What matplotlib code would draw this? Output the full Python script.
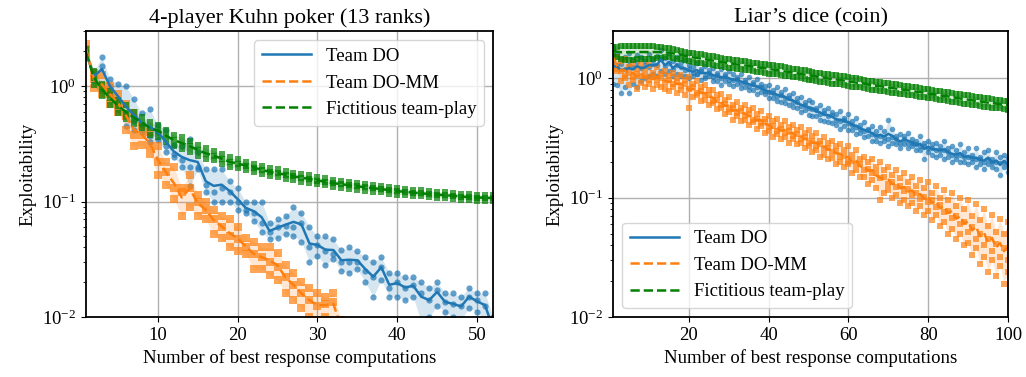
import numpy as np
import matplotlib
matplotlib.use("Agg")
import matplotlib.pyplot as plt

plt.rcParams["font.family"] = "serif"
plt.rcParams["font.serif"] = ["Liberation Serif", "DejaVu Serif"]
plt.rcParams["mathtext.fontset"] = "stix"
plt.rcParams["font.size"] = 13.5

# ---- 4-player Kuhn poker (13 ranks): exploitability per seed ----
kuhn_do_a = [2.1, 1.35, 1.78, 1.15, 1.05, 1.0, 0.77, 0.58, 0.63, 0.46,
             0.42, 0.31, 0.3, 0.35, 0.27, 0.19, 0.19, 0.19, 0.15, 0.13,
             0.1, 0.1, 0.1, 0.065, 0.07, 0.075, 0.09, 0.08, 0.06, 0.05,
             0.05, 0.047, 0.038, 0.04, 0.037, 0.033, 0.03, 0.033, 0.024, 0.024,
             0.022, 0.022, 0.02, 0.018, 0.02, 0.016, 0.016, 0.015, 0.018, 0.016,
             0.016, 0.01]
kuhn_do_b = [1.9, 1.2, 1.48, 1.0, 0.78, 0.55, 0.5, 0.46, 0.37, 0.4,
             0.3, 0.26, 0.23, 0.2, 0.2, 0.14, 0.12, 0.13, 0.12, 0.1,
             0.085, 0.08, 0.065, 0.055, 0.06, 0.062, 0.06, 0.065, 0.04, 0.042,
             0.037, 0.035, 0.03, 0.03, 0.03, 0.025, 0.022, 0.027, 0.018, 0.02,
             0.018, 0.019, 0.016, 0.014, 0.017, 0.0135, 0.013, 0.0125, 0.015, 0.014,
             0.0125, 0.008]
kuhn_do_c = [1.85, 1.1, 0.95, 0.85, 0.62, 0.45, 0.42, 0.4, 0.33, 0.34,
             0.27, 0.245, 0.2, 0.135, 0.19, 0.12, 0.1, 0.1, 0.1, 0.085,
             0.08, 0.068, 0.055, 0.047, 0.048, 0.052, 0.05, 0.045, 0.03, 0.034,
             0.028, 0.032, 0.025, 0.024, 0.026, 0.02, 0.015, 0.021, 0.015, 0.015,
             0.014, 0.015, 0.009, 0.01, 0.0125, 0.011, 0.01, 0.0095, 0.012, 0.011,
             0.0095, 0.006]

kuhn_mm_a = [2.3, 1.3, 1.25, 1.0, 0.85, 0.7, 0.58, 0.45, 0.4, 0.3,
             0.22, 0.2, 0.13, 0.17, 0.115, 0.1, 0.085, 0.075, 0.07, 0.06,
             0.048, 0.045, 0.04, 0.04, 0.036, 0.028, 0.024, 0.02, 0.018, 0.016,
             0.015, 0.016, 0.0095]
kuhn_mm_b = [2.1, 1.15, 1.0, 0.85, 0.7, 0.55, 0.38, 0.38, 0.3, 0.22,
             0.18, 0.13, 0.12, 0.13, 0.1, 0.085, 0.07, 0.06, 0.05, 0.047,
             0.04, 0.035, 0.033, 0.03, 0.027, 0.022, 0.019, 0.016, 0.014, 0.0125,
             0.013, 0.0135, 0.008]
kuhn_mm_c = [1.9, 0.97, 0.85, 0.7, 0.6, 0.42, 0.3, 0.31, 0.26, 0.17,
             0.14, 0.105, 0.075, 0.09, 0.075, 0.07, 0.052, 0.048, 0.04, 0.037,
             0.035, 0.026, 0.026, 0.023, 0.021, 0.016, 0.014, 0.012, 0.01, 0.0095,
             0.01, 0.0095, 0.0065]

kuhn_ftp_a = [2.1, 1.35, 1.05, 0.9, 0.76, 0.68, 0.6, 0.54, 0.49, 0.46,
              0.42, 0.38, 0.36, 0.335, 0.31, 0.29, 0.275, 0.258, 0.242, 0.233,
              0.222, 0.213, 0.204, 0.195, 0.19, 0.184, 0.178, 0.172, 0.169, 0.163,
              0.159, 0.155, 0.151, 0.148, 0.145, 0.142, 0.139, 0.137, 0.134, 0.131,
              0.129, 0.127, 0.125, 0.123, 0.122, 0.12, 0.119, 0.117, 0.116, 0.115,
              0.114, 0.113]
kuhn_ftp_b = [1.95, 1.18, 0.93, 0.79, 0.67, 0.59, 0.53, 0.48, 0.43, 0.41,
              0.37, 0.34, 0.32, 0.3, 0.28, 0.26, 0.25, 0.234, 0.22, 0.213,
              0.204, 0.196, 0.188, 0.18, 0.176, 0.17, 0.165, 0.16, 0.157, 0.152,
              0.148, 0.144, 0.141, 0.138, 0.135, 0.133, 0.13, 0.128, 0.125, 0.123,
              0.121, 0.119, 0.118, 0.116, 0.115, 0.113, 0.112, 0.11, 0.109, 0.108,
              0.108, 0.107]
kuhn_ftp_c = [1.8, 1.02, 0.82, 0.69, 0.59, 0.52, 0.47, 0.43, 0.38, 0.36,
              0.33, 0.3, 0.285, 0.27, 0.25, 0.235, 0.227, 0.213, 0.2, 0.195,
              0.188, 0.181, 0.174, 0.167, 0.163, 0.158, 0.153, 0.149, 0.146, 0.142,
              0.138, 0.134, 0.132, 0.129, 0.126, 0.124, 0.122, 0.12, 0.117, 0.115,
              0.114, 0.112, 0.111, 0.109, 0.108, 0.107, 0.106, 0.104, 0.103, 0.102,
              0.102, 0.101]

# ---- Liar's dice (coin): exploitability per seed ----
dice_do_a = [1.55, 1.6, 1.45, 1.5, 1.62, 1.42, 1.58, 1.5, 1.4, 1.6,
             1.45, 1.55, 1.72, 1.48, 1.62, 1.4, 1.52, 1.38, 1.42, 1.3,
             1.25, 1.35, 1.2, 1.28, 1.18, 1.22, 1.12, 1.2, 1.08, 1.15,
             1.1, 1.03, 1.08, 0.98, 1.02, 0.93, 0.99, 0.9, 0.86, 0.88,
             0.8, 0.84, 0.77, 0.81, 0.72, 0.75, 0.68, 0.7, 0.63, 0.66,
             0.64, 0.57, 0.6, 0.54, 0.56, 0.52, 0.5, 0.53, 0.47, 0.5,
             0.44, 0.47, 0.41, 0.43, 0.38, 0.4, 0.36, 0.39, 0.36, 0.45,
             0.38, 0.33, 0.34, 0.33, 0.35, 0.31, 0.3, 0.33, 0.29, 0.3,
             0.28, 0.29, 0.27, 0.3, 0.26, 0.27, 0.25, 0.28, 0.24, 0.26,
             0.23, 0.26, 0.22, 0.24, 0.25, 0.21, 0.24, 0.22, 0.23, 0.215]
dice_do_b = [1.35, 1.3, 1.32, 1.2, 1.3, 1.25, 1.38, 1.22, 1.3, 1.25,
             1.32, 1.3, 1.45, 1.28, 1.36, 1.2, 1.3, 1.25, 1.18, 1.2,
             1.12, 1.1, 1.15, 1.05, 1.12, 1.02, 1.07, 1.0, 1.04, 0.97,
             0.97, 0.99, 0.92, 0.93, 0.87, 0.9, 0.84, 0.84, 0.79, 0.77,
             0.76, 0.71, 0.73, 0.68, 0.68, 0.64, 0.64, 0.59, 0.6, 0.56,
             0.55, 0.54, 0.5, 0.51, 0.48, 0.49, 0.45, 0.44, 0.45, 0.42,
             0.41, 0.39, 0.38, 0.36, 0.37, 0.34, 0.33, 0.33, 0.32, 0.31,
             0.32, 0.31, 0.29, 0.31, 0.29, 0.29, 0.28, 0.27, 0.27, 0.26,
             0.26, 0.25, 0.25, 0.25, 0.24, 0.23, 0.23, 0.23, 0.22, 0.22,
             0.215, 0.21, 0.21, 0.2, 0.21, 0.2, 0.2, 0.195, 0.2, 0.19]
dice_do_c = [0.9, 0.88, 0.75, 0.85, 0.75, 0.9, 0.85, 0.95, 1.0, 1.05,
             1.1, 1.05, 1.15, 1.1, 1.15, 1.05, 1.1, 1.05, 1.05, 1.0,
             1.05, 1.08, 0.98, 1.0, 1.04, 0.96, 0.95, 0.88, 0.95, 0.9,
             0.86, 0.9, 0.83, 0.85, 0.8, 0.8, 0.74, 0.77, 0.74, 0.68,
             0.68, 0.65, 0.64, 0.62, 0.6, 0.58, 0.57, 0.52, 0.54, 0.49,
             0.48, 0.48, 0.45, 0.44, 0.43, 0.42, 0.41, 0.38, 0.4, 0.37,
             0.37, 0.34, 0.35, 0.32, 0.33, 0.3, 0.3, 0.29, 0.3, 0.27,
             0.29, 0.28, 0.26, 0.28, 0.26, 0.27, 0.25, 0.25, 0.21, 0.24,
             0.23, 0.22, 0.23, 0.21, 0.22, 0.2, 0.21, 0.2, 0.2, 0.19,
             0.2, 0.18, 0.19, 0.175, 0.19, 0.18, 0.175, 0.155, 0.18, 0.165]

dice_mm_a = [1.75, 1.5, 1.4, 1.45, 1.25, 1.35, 1.2, 1.32, 1.18, 1.3,
             1.12, 1.25, 1.1, 1.15, 1.05, 1.12, 1.0, 1.06, 0.97, 1.02,
             0.9, 0.95, 0.84, 0.88, 0.8, 0.8, 0.72, 0.74, 0.66, 0.7,
             0.6, 0.64, 0.57, 0.6, 0.54, 0.56, 0.5, 0.53, 0.46, 0.48,
             0.44, 0.46, 0.41, 0.44, 0.39, 0.41, 0.37, 0.39, 0.35, 0.37,
             0.33, 0.35, 0.3, 0.32, 0.29, 0.3, 0.27, 0.28, 0.25, 0.27,
             0.23, 0.25, 0.21, 0.22, 0.2, 0.21, 0.18, 0.2, 0.17, 0.18,
             0.155, 0.17, 0.145, 0.16, 0.135, 0.15, 0.125, 0.14, 0.12, 0.135,
             0.11, 0.125, 0.1, 0.115, 0.095, 0.11, 0.085, 0.1, 0.08, 0.095,
             0.07, 0.088, 0.065, 0.08, 0.058, 0.072, 0.052, 0.066, 0.05, 0.062]
dice_mm_b = [1.45, 1.2, 1.15, 1.05, 1.12, 1.02, 1.08, 1.05, 1.05, 0.98,
             1.02, 0.98, 1.0, 0.92, 0.97, 0.9, 0.93, 0.86, 0.9, 0.82,
             0.84, 0.76, 0.78, 0.72, 0.73, 0.65, 0.66, 0.6, 0.61, 0.55,
             0.56, 0.51, 0.53, 0.48, 0.5, 0.45, 0.46, 0.42, 0.43, 0.39,
             0.4, 0.36, 0.38, 0.35, 0.36, 0.33, 0.34, 0.31, 0.32, 0.29,
             0.3, 0.27, 0.28, 0.255, 0.26, 0.24, 0.245, 0.22, 0.225, 0.2,
             0.205, 0.19, 0.19, 0.17, 0.175, 0.16, 0.16, 0.145, 0.15, 0.13,
             0.135, 0.122, 0.125, 0.113, 0.118, 0.105, 0.11, 0.097, 0.102, 0.092,
             0.095, 0.083, 0.087, 0.076, 0.078, 0.068, 0.07, 0.06, 0.062, 0.052,
             0.057, 0.045, 0.05, 0.04, 0.045, 0.036, 0.041, 0.032, 0.038, 0.03]
dice_mm_c = [1.25, 1.15, 0.95, 1.0, 0.88, 0.98, 0.82, 0.92, 0.85, 0.9,
             0.82, 0.88, 0.85, 0.82, 0.78, 0.85, 0.76, 0.8, 0.72, 0.56,
             0.7, 0.72, 0.65, 0.66, 0.6, 0.62, 0.55, 0.56, 0.5, 0.52,
             0.45, 0.48, 0.44, 0.45, 0.41, 0.43, 0.38, 0.4, 0.35, 0.36,
             0.32, 0.34, 0.31, 0.32, 0.29, 0.31, 0.28, 0.29, 0.26, 0.27,
             0.24, 0.25, 0.22, 0.23, 0.21, 0.215, 0.19, 0.2, 0.18, 0.19,
             0.16, 0.17, 0.15, 0.15, 0.13, 0.14, 0.12, 0.095, 0.11, 0.115,
             0.1, 0.105, 0.09, 0.095, 0.085, 0.09, 0.078, 0.085, 0.072, 0.078,
             0.065, 0.072, 0.058, 0.062, 0.05, 0.055, 0.045, 0.05, 0.04, 0.042,
             0.033, 0.038, 0.028, 0.032, 0.024, 0.03, 0.022, 0.027, 0.019, 0.024]

dice_ftp_a = [1.82, 1.85, 1.87, 1.88, 1.88, 1.88, 1.88, 1.88, 1.87, 1.87,
              1.86, 1.85, 1.83, 1.81, 1.79, 1.76, 1.74, 1.71, 1.68, 1.65,
              1.63, 1.61, 1.59, 1.57, 1.55, 1.53, 1.51, 1.49, 1.47, 1.45,
              1.44, 1.42, 1.41, 1.39, 1.38, 1.36, 1.35, 1.33, 1.32, 1.3,
              1.29, 1.27, 1.26, 1.24, 1.23, 1.21, 1.2, 1.18, 1.17, 1.15,
              1.14, 1.12, 1.11, 1.1, 1.08, 1.07, 1.06, 1.05, 1.04, 1.02,
              1.01, 1.0, 0.99, 0.98, 0.96, 0.95, 0.94, 0.93, 0.92, 0.91,
              0.9, 0.89, 0.88, 0.87, 0.86, 0.85, 0.84, 0.83, 0.82, 0.81,
              0.8, 0.79, 0.78, 0.77, 0.765, 0.755, 0.745, 0.735, 0.725, 0.72,
              0.71, 0.7, 0.695, 0.685, 0.68, 0.67, 0.665, 0.66, 0.65, 0.645]
dice_ftp_b = [1.6, 1.5, 1.45, 1.44, 1.44, 1.44, 1.45, 1.45, 1.46, 1.46,
              1.47, 1.48, 1.49, 1.5, 1.5, 1.49, 1.47, 1.45, 1.42, 1.4,
              1.38, 1.36, 1.35, 1.33, 1.31, 1.3, 1.28, 1.26, 1.25, 1.23,
              1.22, 1.2, 1.19, 1.18, 1.17, 1.15, 1.14, 1.13, 1.12, 1.1,
              1.09, 1.08, 1.07, 1.05, 1.04, 1.03, 1.02, 1.0, 0.99, 0.975,
              0.965, 0.95, 0.94, 0.93, 0.915, 0.905, 0.9, 0.89, 0.88, 0.865,
              0.855, 0.845, 0.84, 0.83, 0.815, 0.805, 0.795, 0.79, 0.78, 0.77,
              0.76, 0.755, 0.745, 0.735, 0.73, 0.72, 0.71, 0.705, 0.695, 0.685,
              0.68, 0.67, 0.66, 0.655, 0.65, 0.64, 0.63, 0.625, 0.615, 0.61,
              0.6, 0.595, 0.59, 0.58, 0.575, 0.57, 0.565, 0.56, 0.55, 0.545]

labels = ["Team DO", "Team DO-MM", "Fictitious team-play"]
colors = ["#1f77b4", "#ff7f0e", "green"]


def draw(ax, seeds, color, ls, marker, size, label):
    arr = np.array(seeds)
    x = np.arange(1, arr.shape[1] + 1)
    ax.fill_between(x, arr.min(axis=0), arr.max(axis=0), color=color, alpha=0.18, lw=0)
    for s in arr:
        ax.scatter(x, s, color=color, marker=marker, s=size, alpha=0.7, lw=0)
    ax.plot(x, arr.mean(axis=0), color=color, ls=ls, lw=1.8, label=label)


fig = plt.figure(figsize=(10.26, 3.77), dpi=100)
ax1 = fig.add_axes([86 / 1026, 60 / 377, 407 / 1026, 286 / 377])
ax2 = fig.add_axes([613 / 1026, 60 / 377, 395 / 1026, 286 / 377])

draw(ax1, [kuhn_do_a, kuhn_do_b, kuhn_do_c], colors[0], "-", "o", 20, labels[0])
draw(ax1, [kuhn_mm_a, kuhn_mm_b, kuhn_mm_c], colors[1], "--", "s", 26, labels[1])
draw(ax1, [kuhn_ftp_a, kuhn_ftp_b, kuhn_ftp_c], colors[2], "--", "s", 24, labels[2])

draw(ax2, [dice_do_a, dice_do_b, dice_do_c], colors[0], "-", "o", 16, labels[0])
draw(ax2, [dice_mm_a, dice_mm_b, dice_mm_c], colors[1], "--", "s", 20, labels[1])
draw(ax2, [dice_ftp_a, dice_ftp_b], colors[2], "--", "s", 18, labels[2])

ax1.set_title("4-player Kuhn poker (13 ranks)", fontsize=16)
ax2.set_title("Liar\u2019s dice (coin)", fontsize=16)
for ax, xmax, ytop, loc in [(ax1, 52, 3.0, "upper right"), (ax2, 100, 2.5, "lower left")]:
    ax.set_yscale("log")
    ax.set_xlim(1, xmax)
    ax.set_ylim(0.01, ytop)
    ax.grid(True, color="#b0b0b0", lw=1.0)
    ax.set_axisbelow(True)
    ax.set_xlabel("Number of best response computations")
    ax.set_ylabel("Exploitability")
    for sp in ax.spines.values():
        sp.set_linewidth(1.3)
    ax.legend(loc=loc, handlelength=2.6)

fig.savefig("out.png", dpi=100)
